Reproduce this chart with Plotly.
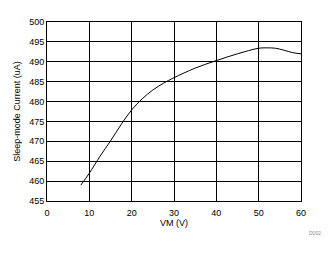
import plotly.graph_objects as go

vm = [8, 10, 12.5, 15, 17.5, 20, 22.5, 25, 27.5, 30, 35, 40, 45, 50, 52, 54, 56, 58, 60]
current = [459, 462, 466.2, 470.1, 474.2, 477.9, 480.7, 482.9, 484.6, 486.0, 488.4, 490.3, 492, 493.4, 493.5, 493.4, 492.9, 492.3, 492]

x_ticks = [0, 10, 20, 30, 40, 50, 60]
y_ticks = [455, 460, 465, 470, 475, 480, 485, 490, 495, 500]

fig = go.Figure()
fig.add_trace(go.Scatter(x=vm, y=current, mode="lines",
                         line=dict(color="black", width=1), line_shape="spline"))

font = dict(family="Liberation Sans, Arial, sans-serif", size=9, color="black")
fig.update_layout(
    width=330, height=254,
    margin=dict(l=47, r=29, t=22, b=53),
    paper_bgcolor="white", plot_bgcolor="white",
    showlegend=False,
    font=font,
    xaxis=dict(range=[0, 60], tickvals=x_ticks, showgrid=True, gridcolor="black", gridwidth=1,
               showline=True, linecolor="black", linewidth=1, mirror=True, zeroline=False,
               ticks="", ticklen=0, ticklabelstandoff=3,
               title=dict(text="VM (V)", font=font, standoff=2)),
    yaxis=dict(range=[455, 500], tickvals=y_ticks, showgrid=True, gridcolor="black", gridwidth=1,
               showline=True, linecolor="black", linewidth=1, mirror=True, zeroline=False,
               ticks="", ticklen=0,
               title=dict(text="Sleep-mode Current (uA)", font=font, standoff=7)),
    annotations=[dict(text="D002", x=(315 - 47) / 254, y=1 - (233 - 22) / 179,
                      xref="paper", yref="paper", showarrow=False,
                      xanchor="center", yanchor="middle",
                      font=dict(family="Liberation Sans, Arial, sans-serif", size=5, color="#888"))],
)
fig.write_html("out.html")
